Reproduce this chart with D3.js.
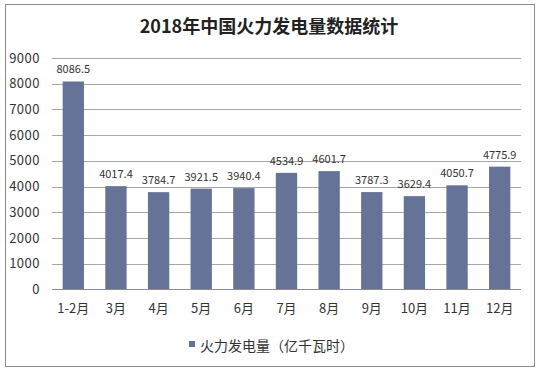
<!DOCTYPE html>
<html><head><meta charset="utf-8">
<script src="https://cdn.jsdelivr.net/npm/d3@7"></script>
<style>body{margin:0;background:#fff;}svg{display:block;font-family:"Microsoft YaHei","Noto Sans CJK SC",sans-serif;}</style>
</head><body>
<svg id="c" width="539" height="372"></svg>
<script>
const categories = ["1-2月","3月","4月","5月","6月","7月","8月","9月","10月","11月","12月"];
const values = [8086.5,4017.4,3784.7,3921.5,3940.4,4534.9,4601.7,3787.3,3629.4,4050.7,4775.9];
const yTicks = [0,1000,2000,3000,4000,5000,6000,7000,8000,9000];
const title = "2018年中国火力发电量数据统计";
const seriesName = "火力发电量（亿千瓦时）";

const svg = d3.select("#c");
svg.append("rect").attr("x",5.5).attr("y",4.5).attr("width",529).attr("height",362)
  .attr("fill","#fff").attr("stroke","#8c8c8c").attr("stroke-width",1);

const x = d3.scaleBand().domain(categories).range([52,521]).paddingInner(0.5).paddingOuter(0.25);
const y = d3.scaleLinear().domain([0,9000]).range([289.5,58]);

svg.append("text").attr("x",269).attr("y",33).attr("text-anchor","middle")
  .attr("font-size",18).attr("font-weight","bold").attr("fill","#222").text(title);

const g = svg.append("g");
g.selectAll("line.grid").data(yTicks.slice(1)).join("line").attr("class","grid")
  .attr("x1",52).attr("x2",521).attr("y1",d=>Math.round(y(d))+0.5).attr("y2",d=>Math.round(y(d))+0.5)
  .attr("stroke","#a6a6a6").attr("stroke-width",1);

g.selectAll("text.yt").data(yTicks).join("text").attr("class","yt")
  .attr("x",40).attr("y",d=>y(d)+4.5).attr("text-anchor","end")
  .attr("font-size",13).attr("letter-spacing",0.5).attr("fill","#333").text(d=>d);

g.selectAll("rect.bar").data(values).join("rect").attr("class","bar")
  .attr("x",(d,i)=>x(categories[i])).attr("width",x.bandwidth())
  .attr("y",d=>y(d)).attr("height",d=>y(0)-y(d)).attr("fill","#667399");

g.selectAll("text.val").data(values).join("text").attr("class","val")
  .attr("x",(d,i)=>x(categories[i])+x.bandwidth()/2).attr("y",d=>y(d)-8)
  .attr("text-anchor","middle").attr("font-size",11).attr("fill","#333").text(d=>d.toFixed(1));

g.append("line").attr("x1",52).attr("x2",521).attr("y1",289.5).attr("y2",289.5)
  .attr("stroke","#8c8c8c").attr("stroke-width",1);

g.selectAll("text.xt").data(categories).join("text").attr("class","xt")
  .attr("x",d=>x(d)+x.bandwidth()/2).attr("y",313).attr("text-anchor","middle")
  .attr("font-size",13).attr("fill","#333").text(d=>d);

svg.append("rect").attr("x",189).attr("y",341).attr("width",6).attr("height",6).attr("fill","#667399");
svg.append("text").attr("x",200).attr("y",351).attr("font-size",14).attr("fill","#333").text(seriesName);
</script>
</body></html>
